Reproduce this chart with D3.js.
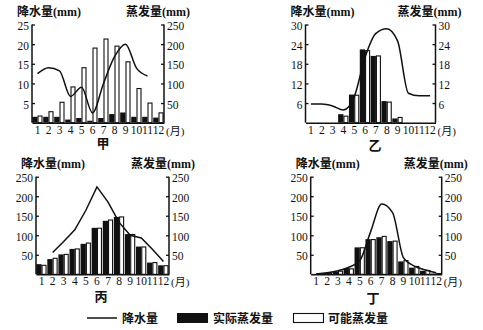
<!DOCTYPE html>
<html><head><meta charset="utf-8">
<script src="https://cdn.jsdelivr.net/npm/d3@7"></script>
<style>
body{margin:0;background:#fff;}
text{font-family:"Liberation Serif","Noto Sans CJK SC",serif;fill:#111;}
</style></head>
<body><svg id="c" width="483" height="330"></svg>
<script>
const months = [1,2,3,4,5,6,7,8,9,10,11,12];
const monthLabels = ["1","2","3","4","5","6","7","8","9","10","11","12"];

// 甲
const jiaPrecip    = [12.5,14,13.2,6.7,9,2.5,10,16.8,20,13.9,11.9,null];
const jiaActual    = [15,15,15,8,12,5,12,22,26,15,15,13];
const jiaPotential = [17,28,52,91,140,190,213,195,155,87,50,25];
const jiaLeftTicks = [5,10,15,20,25];
const jiaRightTicks = [50,100,150,200,250];

// 乙
const yiPrecip    = [5.7,5.7,5.1,3.9,7.9,20,27.3,28.7,25,9,8.2,8.2];
const yiActual    = [0,0,0,2.6,8.6,22.4,20.4,6.6,1.3,0,0,0];
const yiPotential = [0,0,0,2,8.4,22,20.4,6.3,1.6,0,0,0];
const yiLeftTicks = [6,12,18,24,30];
const yiRightTicks = [6,12,18,24,30];

// 丙
const bingPrecip    = [null,56,84,114,164,224,185,133,100,93,64,33];
const bingActual    = [26,39,51,65,78,119,137,147,103,71,30,23];
const bingPotential = [23,41,51,65,80,118,139,147,102,70,30,22];
const bingLeftTicks = [50,100,150,200,250];
const bingRightTicks = [50,100,150,200,250];

// 丁
const dingPrecip    = [1,4,9,18,35,110,180,158,42,21,11,4];
const dingActual    = [1,3,7,16,69,90,95,85,33,17,9,2];
const dingPotential = [1,3,8,14,68,89,97,85,35,20,10,2];
const dingLeftTicks = [50,100,150,200,250];
const dingRightTicks = [50,100,150,200,250];

const titles = ["甲","乙","丙","丁"];
const leftTitle = "降水量(mm)";
const rightTitle = "蒸发量(mm)";
const monthUnit = "(月)";
const legendLabels = ["降水量","实际蒸发量","可能蒸发量"];

const panels = [
  {title:titles[0], left:32, right:164, top:24.5, bottom:122.7, maxL:25, maxR:250,
   ticksL:jiaLeftTicks, ticksR:jiaRightTicks, precip:jiaPrecip, actual:jiaActual, potential:jiaPotential,
   tx:103, ty:148, curve:d3.curveMonotoneX},
  {title:titles[1], left:305.5, right:435.5, top:24.5, bottom:122.7, maxL:30, maxR:30,
   ticksL:yiLeftTicks, ticksR:yiRightTicks, precip:yiPrecip, actual:yiActual, potential:yiPotential,
   tx:375, ty:150, curve:d3.curveMonotoneX},
  {title:titles[2], left:36, right:169, top:176.7, bottom:274.3, maxL:250, maxR:250,
   ticksL:bingLeftTicks, ticksR:bingRightTicks, precip:bingPrecip, actual:bingActual, potential:bingPotential,
   tx:101, ty:301, curve:d3.curveLinear},
  {title:titles[3], left:310.7, right:441.7, top:176.7, bottom:274.3, maxL:250, maxR:250,
   ticksL:dingLeftTicks, ticksR:dingRightTicks, precip:dingPrecip, actual:dingActual, potential:dingPotential,
   tx:373, ty:303, curve:d3.curveMonotoneX}
];

const svg = d3.select("#c");

panels.forEach(p => {
  const g = svg.append("g");
  const x = d3.scaleBand().domain(months).range([p.left, p.right]).paddingInner(0).paddingOuter(0);
  const yL = d3.scaleLinear().domain([0, p.maxL]).range([p.bottom, p.top]);
  const yR = d3.scaleLinear().domain([0, p.maxR]).range([p.bottom, p.top]);
  const bw = 5;

  g.selectAll("rect.act").data(months).join("rect")
    .attr("x", (m) => x(m) + x.bandwidth()/2 - bw - 0.3)
    .attr("y", (m,i) => yR(p.actual[i]))
    .attr("width", bw + 0.3)
    .attr("height", (m,i) => p.bottom - yR(p.actual[i]))
    .attr("fill", "#111");
  g.selectAll("rect.pot").data(months).join("rect")
    .attr("x", (m) => x(m) + x.bandwidth()/2 + 0.5)
    .attr("y", (m,i) => yR(p.potential[i]))
    .attr("width", bw - 1)
    .attr("height", (m,i) => Math.max(0, p.bottom - yR(p.potential[i])))
    .attr("fill", "#fff").attr("stroke", "#111").attr("stroke-width", 1.1)
    .attr("display", (m,i) => p.potential[i] > 0 ? null : "none");

  const line = d3.line()
    .defined(d => d.v != null)
    .x(d => x(d.m) + x.bandwidth()/2)
    .y(d => yL(d.v))
    .curve(p.curve);
  g.append("path")
    .datum(months.map((m,i) => ({m, v:p.precip[i]})))
    .attr("d", line).attr("fill","none").attr("stroke","#111").attr("stroke-width",1.5);

  const aL = g.append("g").attr("transform", `translate(${p.left},0)`)
    .call(d3.axisLeft(yL).tickValues(p.ticksL).tickSize(-3).tickSizeOuter(0).tickPadding(3));
  const aR = g.append("g").attr("transform", `translate(${p.right},0)`)
    .call(d3.axisRight(yR).tickValues(p.ticksR).tickSize(-3).tickSizeOuter(0).tickPadding(3));
  [aL, aR].forEach(a => {
    a.select(".domain").remove();
    a.selectAll("line").attr("stroke","#111").attr("stroke-width",1.3);
    a.selectAll("text").style("font-size","11.5px").style("font-family","Liberation Serif").attr("fill","#111").attr("dy","0.45em");
  });
  g.append("line").attr("x1",p.left).attr("x2",p.left).attr("y1",p.top).attr("y2",p.bottom)
    .attr("stroke","#111").attr("stroke-width",1.5);
  g.append("line").attr("x1",p.right).attr("x2",p.right).attr("y1",p.top).attr("y2",p.bottom)
    .attr("stroke","#111").attr("stroke-width",1.5);

  const aB = g.append("g").attr("transform", `translate(0,${p.bottom})`)
    .call(d3.axisBottom(x).tickSize(0).tickPadding(3).tickFormat((m,i) => monthLabels[i]));
  aB.select(".domain").attr("stroke","#111").attr("stroke-width",1.5);
  aB.selectAll("text").style("font-size","11.5px").style("font-family","Liberation Serif").attr("fill","#111");
  g.append("text").attr("x", p.right + 2).attr("y", p.bottom + 12)
    .style("font-size","11px").text(monthUnit);

  g.append("text").attr("x", p.left - 15).attr("y", p.top - 9)
    .style("font-size","12px").style("font-weight","bold").text(leftTitle);
  g.append("text").attr("x", p.right + 26).attr("y", p.top - 9).attr("text-anchor","end")
    .style("font-size","12px").style("font-weight","bold").text(rightTitle);

  g.append("text").attr("x", p.tx).attr("y", p.ty).attr("text-anchor","middle")
    .style("font-size","13px").style("font-weight","bold").text(p.title);
});

const lg = svg.append("g");
lg.append("line").attr("x1",87).attr("x2",117).attr("y1",318).attr("y2",318).attr("stroke","#111").attr("stroke-width",1.5);
lg.append("text").attr("x",122).attr("y",322.5).style("font-size","12px").style("font-weight","bold").text(legendLabels[0]);
lg.append("rect").attr("x",177).attr("y",313).attr("width",31).attr("height",10).attr("fill","#111");
lg.append("text").attr("x",213).attr("y",322.5).style("font-size","12px").style("font-weight","bold").text(legendLabels[1]);
lg.append("rect").attr("x",293.5).attr("y",313.5).attr("width",30).attr("height",9).attr("fill","#fff").attr("stroke","#111").attr("stroke-width",1.1);
lg.append("text").attr("x",328).attr("y",322.5).style("font-size","12px").style("font-weight","bold").text(legendLabels[2]);
</script></body></html>
